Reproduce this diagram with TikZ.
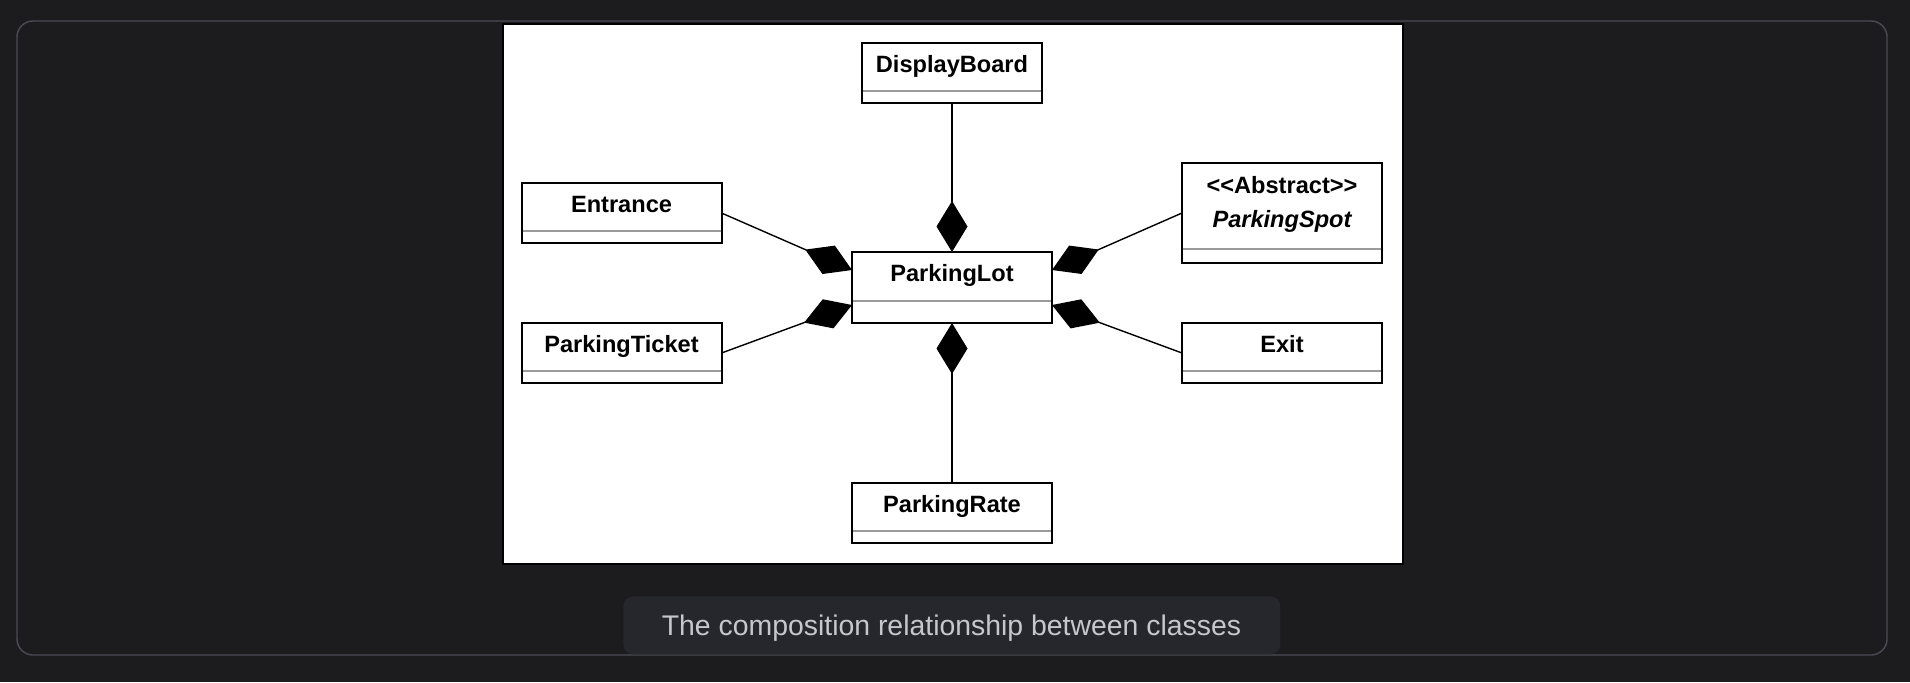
\documentclass[tikz,border=0pt]{standalone}
\usepackage{fontspec}
\newfontfamily\uml{Liberation Sans}
\usetikzlibrary{arrows.meta,calc}
\definecolor{bgc}{HTML}{1C1C1F}
\definecolor{framec}{HTML}{4B4B55}
\definecolor{capbg}{HTML}{26272C}
\definecolor{capfg}{HTML}{C6C6CB}
\definecolor{sepc}{HTML}{9A9A9A}
\begin{document}
\begin{tikzpicture}[x=0.5pt,y=-0.5pt,
 cls/.style={draw=black,line width=1pt,fill=white,inner sep=0pt,outer sep=0pt,anchor=north west,minimum width=100pt,minimum height=30pt},
 cname/.style={inner sep=0pt,anchor=base,font=\uml\bfseries\fontsize{11.8}{14}\selectfont,text=black},
 sepline/.style={draw=sepc,line width=0.75pt},
 comp/.style={draw=black,line width=0.7pt,-{Diamond[length=25.5pt,width=15.5pt]}},
]
\useasboundingbox (0,0) rectangle (1910,682);
\fill[bgc] (0,0) rectangle (1910,682);
\draw[framec,line width=0.7pt,rounded corners=8pt] (17,21) rectangle (1887,655);
\node[draw=black,line width=0.75pt,fill=white,anchor=north west,minimum width=450pt,minimum height=270pt,inner sep=0pt] (panel) at (502,23) {};

% class boxes
\node[cls,minimum width=90pt] (DB) at (862,43) {};
\node[cls] (E) at (521.5,183) {};
\node[cls] (PT) at (521.5,323) {};
\node[cls,minimum height=35.5pt] (PL) at (852,252) {};
\node[cls,minimum height=50pt] (PS) at (1182,163) {};
\node[cls] (X) at (1182,323) {};
\node[cls] (PR) at (852,483) {};

% names
\node[cname] (DBt) at ($(DB.north)+(0,29.5)$) {DisplayBoard};
\node[cname] (Et) at ($(E.north)+(0,29)$) {Entrance};
\node[cname] (PTt) at ($(PT.north)+(0,29)$) {ParkingTicket};
\node[cname] (PLt) at ($(PL.north)+(0,29.5)$) {ParkingLot};
\node[cname] (PSt1) at ($(PS.north)+(0,30.5)$) {<<Abstract>>};
\node[cname,font=\uml\bfseries\itshape\fontsize{11.8}{14}\selectfont] (PSt2) at ($(PS.north)+(0,64.5)$) {ParkingSpot};
\node[cname] (Xt) at ($(X.north)+(0,29)$) {Exit};
\node[cname] (PRt) at ($(PR.north)+(0,29)$) {ParkingRate};

% separators
\foreach \b/\d in {DB/12,E/12,PT/12,PL/22,PS/14,X/12,PR/12}{
  \draw[sepline] ($(\b.south west)+(1,-\d)$) -- ($(\b.south east)+(-1,-\d)$);
}

% attachment points on ParkingLot
\coordinate (PLw1) at ($(PL.north west)+(0,18)$);
\coordinate (PLw2) at ($(PL.south west)+(0,-18)$);
\coordinate (PLe1) at ($(PL.north east)+(0,18)$);
\coordinate (PLe2) at ($(PL.south east)+(0,-18)$);

% composition connectors
\draw[comp] (DB.south) -- (PL.north);
\draw[comp] (PR.north) -- (PL.south);
\draw[comp] (E.east) -- (PLw1);
\draw[comp] (PT.east) -- (PLw2);
\draw[comp] (PS.west) -- (PLe1);
\draw[comp] (X.west) -- (PLe2);

% caption
\node[fill=capbg,rounded corners=5pt,minimum width=328.5pt,minimum height=29pt,inner sep=0pt,anchor=north west] (capbox) at (623,596) {};
\node[font=\uml\fontsize{14.2}{17}\selectfont,text=capfg,anchor=base,inner sep=0pt] (cap) at (951.5,635) {The composition relationship between classes};
\end{tikzpicture}
\end{document}
